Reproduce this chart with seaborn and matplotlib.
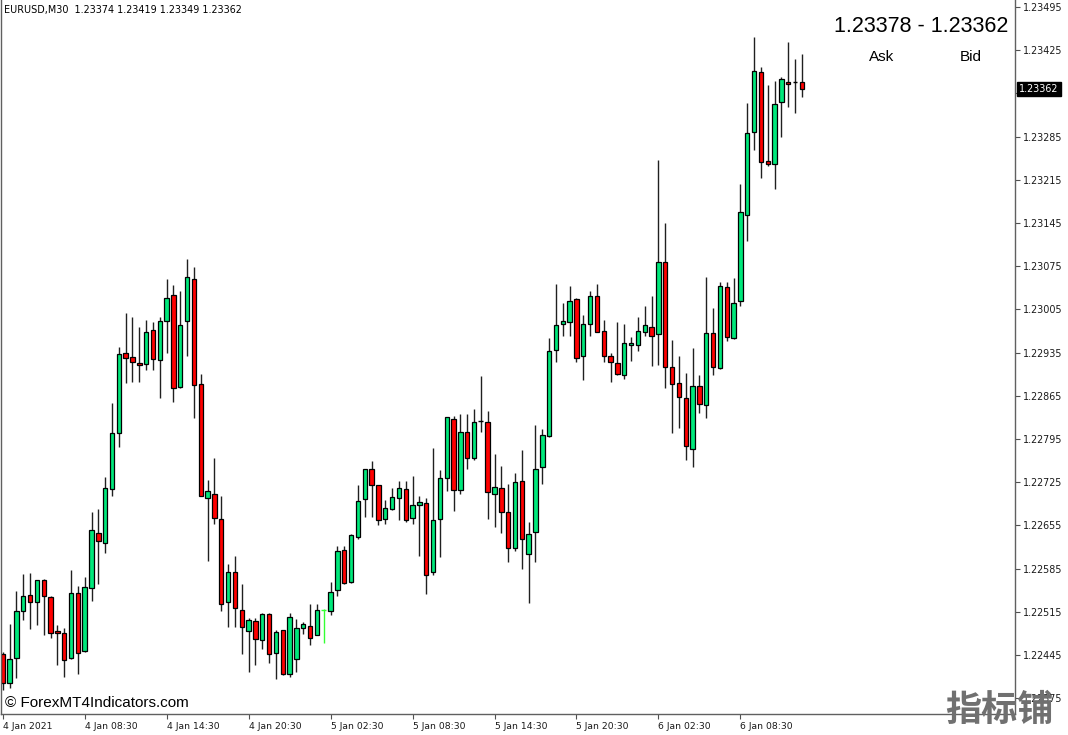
import numpy as np
import matplotlib
matplotlib.use('Agg')
import matplotlib.pyplot as plt
import matplotlib.transforms as mtransforms
import seaborn as sns

# ---- data: EURUSD M30 candles ----
opens = [1.22447, 1.22400, 1.22440, 1.22517, 1.22542, 1.22531, 1.22566, 1.22539, 1.22484, 1.22481,
         1.22440, 1.22546, 1.22451, 1.22553, 1.22643, 1.22626, 1.22714, 1.22804, 1.22934, 1.22928,
         1.22918, 1.22916, 1.22971, 1.22923, 1.22986, 1.23028, 1.22879, 1.22986, 1.23054, 1.22884,
         1.22699, 1.22706, 1.22665, 1.22531, 1.22579, 1.22518, 1.22484, 1.22500, 1.22470, 1.22511,
         1.22448, 1.22485, 1.22414, 1.22438, 1.22488, 1.22492, 1.22477, 1.22518, 1.22516, 1.22550,
         1.22615, 1.22563, 1.22636, 1.22698, 1.22746, 1.22720, 1.22666, 1.22681, 1.22700, 1.22714,
         1.22667, 1.22688, 1.22692, 1.22579, 1.22666, 1.22732, 1.22828, 1.22713, 1.22807, 1.22765,
         1.22824, 1.22822, 1.22706, 1.22716, 1.22677, 1.22619, 1.22727, 1.22608, 1.22644, 1.22750,
         1.22800, 1.22939, 1.22981, 1.22985, 1.23022, 1.22929, 1.22982, 1.23026, 1.22970, 1.22929,
         1.22918, 1.22898, 1.22947, 1.22947, 1.22969, 1.22977, 1.22965, 1.23081, 1.22912, 1.22885,
         1.22861, 1.22778, 1.22881, 1.22850, 1.22966, 1.22910, 1.23042, 1.22958, 1.23019, 1.23158,
         1.23292, 1.23389, 1.23246, 1.23240, 1.23341, 1.23373, 1.23373, 1.23374]
highs = [1.22450, 1.22495, 1.22548, 1.22576, 1.22578, 1.22567, 1.22568, 1.22540, 1.22493, 1.22488,
         1.22583, 1.22556, 1.22571, 1.22676, 1.22682, 1.22733, 1.22854, 1.22944, 1.22999, 1.22992,
         1.22976, 1.22988, 1.22984, 1.22992, 1.23054, 1.23045, 1.23034, 1.23086, 1.23074, 1.22900,
         1.22729, 1.22764, 1.22703, 1.22592, 1.22605, 1.22560, 1.22505, 1.22505, 1.22513, 1.22513,
         1.22485, 1.22486, 1.22513, 1.22503, 1.22499, 1.22527, 1.22528, 1.22520, 1.22563, 1.22622,
         1.22621, 1.22641, 1.22721, 1.22747, 1.22760, 1.22721, 1.22696, 1.22716, 1.22727, 1.22727,
         1.22735, 1.22702, 1.22700, 1.22780, 1.22745, 1.22831, 1.22832, 1.22835, 1.22835, 1.22843,
         1.22897, 1.22841, 1.22770, 1.22751, 1.22722, 1.22740, 1.22777, 1.22660, 1.22818, 1.22811,
         1.22959, 1.23046, 1.23015, 1.23043, 1.23023, 1.22996, 1.23034, 1.23046, 1.22987, 1.22935,
         1.22984, 1.22981, 1.22960, 1.22992, 1.23010, 1.23026, 1.23247, 1.23145, 1.22956, 1.22930,
         1.22902, 1.22942, 1.22899, 1.23058, 1.23008, 1.23050, 1.23050, 1.23056, 1.23208, 1.23340,
         1.23446, 1.23397, 1.23369, 1.23375, 1.23382, 1.23439, 1.23411, 1.23419]
lows = [1.22389, 1.22392, 1.22408, 1.22501, 1.22487, 1.22493, 1.22477, 1.22472, 1.22428, 1.22409,
        1.22439, 1.22414, 1.22450, 1.22533, 1.22560, 1.22611, 1.22703, 1.22782, 1.22885, 1.22888,
        1.22888, 1.22907, 1.22906, 1.22862, 1.22934, 1.22855, 1.22878, 1.22930, 1.22829, 1.22702,
        1.22598, 1.22657, 1.22517, 1.22491, 1.22490, 1.22446, 1.22417, 1.22429, 1.22455, 1.22432,
        1.22406, 1.22412, 1.22409, 1.22418, 1.22479, 1.22461, 1.22477, 1.22464, 1.22510, 1.22541,
        1.22560, 1.22562, 1.22633, 1.22669, 1.22669, 1.22655, 1.22657, 1.22680, 1.22663, 1.22661,
        1.22658, 1.22606, 1.22544, 1.22575, 1.22603, 1.22711, 1.22678, 1.22706, 1.22747, 1.22761,
        1.22806, 1.22665, 1.22652, 1.22643, 1.22596, 1.22613, 1.22584, 1.22530, 1.22596, 1.22722,
        1.22799, 1.22919, 1.22962, 1.22962, 1.22919, 1.22890, 1.22962, 1.22968, 1.22920, 1.22888,
        1.22899, 1.22892, 1.22921, 1.22938, 1.22962, 1.22913, 1.22915, 1.22877, 1.22804, 1.22812,
        1.22761, 1.22750, 1.22837, 1.22829, 1.22899, 1.22909, 1.22954, 1.22957, 1.23011, 1.23115,
        1.23263, 1.23218, 1.23238, 1.23200, 1.23284, 1.23333, 1.23324, 1.23349]
closes = [1.22400, 1.22439, 1.22517, 1.22540, 1.22531, 1.22566, 1.22540, 1.22481, 1.22480, 1.22437,
          1.22545, 1.22448, 1.22555, 1.22647, 1.22630, 1.22715, 1.22804, 1.22932, 1.22926, 1.22919,
          1.22915, 1.22969, 1.22924, 1.22986, 1.23024, 1.22877, 1.22979, 1.23057, 1.22883, 1.22703,
          1.22710, 1.22667, 1.22528, 1.22580, 1.22521, 1.22490, 1.22501, 1.22471, 1.22511, 1.22446,
          1.22483, 1.22414, 1.22506, 1.22488, 1.22495, 1.22472, 1.22518, 1.22518, 1.22547, 1.22614,
          1.22561, 1.22639, 1.22695, 1.22746, 1.22721, 1.22664, 1.22683, 1.22701, 1.22715, 1.22664,
          1.22688, 1.22693, 1.22575, 1.22663, 1.22732, 1.22830, 1.22713, 1.22807, 1.22764, 1.22822,
          1.22824, 1.22709, 1.22717, 1.22677, 1.22618, 1.22725, 1.22633, 1.22641, 1.22746, 1.22802,
          1.22938, 1.22980, 1.22986, 1.23019, 1.22926, 1.22981, 1.23027, 1.22969, 1.22930, 1.22919,
          1.22900, 1.22951, 1.22951, 1.22970, 1.22980, 1.22962, 1.23081, 1.22912, 1.22884, 1.22863,
          1.22783, 1.22881, 1.22852, 1.22967, 1.22911, 1.23043, 1.22960, 1.23015, 1.23162, 1.23290,
          1.23391, 1.23243, 1.23241, 1.23337, 1.23378, 1.23370, 1.23373, 1.23362]
lime_doji = [47]  # doji drawn in lime by the terminal

x_tick_bars = [0, 12, 24, 36, 48, 60, 72, 84, 96, 108]
x_tick_labels = ['4 Jan 2021', '4 Jan 08:30', '4 Jan 14:30', '4 Jan 20:30', '5 Jan 02:30',
                 '5 Jan 08:30', '5 Jan 14:30', '5 Jan 20:30', '6 Jan 02:30', '6 Jan 08:30']
y_ticks = [1.23495, 1.23425, 1.23355, 1.23285, 1.23215, 1.23145, 1.23075, 1.23005, 1.22935,
           1.22865, 1.22795, 1.22725, 1.22655, 1.22585, 1.22515, 1.22445, 1.22375]
ask, bid = 1.23378, 1.23362

# ---- style ----
sns.set_theme(style='white')
plt.rcParams['font.family'] = ['DejaVu Sans']

UP = '#00e87b'
DOWN = '#ff0000'
WICK = '#202020'

fig = plt.figure(figsize=(10.68, 7.35), dpi=100)
ax = fig.add_axes([1 / 1068, 21 / 735, 1014 / 1068, 714 / 735])

o = np.array(opens)
h = np.array(highs)
l = np.array(lows)
c = np.array(closes)
idx = np.arange(len(o))
up = c > o
down = c < o
flat = c == o
lime = np.isin(idx, lime_doji)

# wicks
ax.vlines(idx[~lime], l[~lime], h[~lime], color=WICK, lw=1, zorder=1)
ax.vlines(idx[lime], l[lime], h[lime], color='#33ff33', lw=1, zorder=1)

# bodies
ax.bar(idx[up], (c - o)[up], bottom=o[up], width=0.64, color=UP,
       edgecolor='black', linewidth=0.9, zorder=2)
ax.bar(idx[down], (o - c)[down], bottom=c[down], width=0.64, color=DOWN,
       edgecolor='black', linewidth=0.9, zorder=2)
# dojis
fl = flat & ~lime
ax.hlines(c[fl], idx[fl] - 0.35, idx[fl] + 0.35, color='black', lw=1, zorder=2)
ax.hlines(c[lime], idx[lime] - 0.35, idx[lime] + 0.35, color='#33ff33', lw=1, zorder=2)

ax.set_xlim(-0.25, 148.2)
ax.set_ylim(1.223494, 1.235063)

# axes / ticks
for side in ['left', 'bottom', 'right']:
    ax.spines[side].set_color('#606060')
    ax.spines[side].set_linewidth(1)
ax.spines['top'].set_visible(False)

ax.yaxis.tick_right()
ax.set_yticks(y_ticks)
ax.set_yticklabels([f'{v:.5f}' for v in y_ticks])
ax.set_xticks(x_tick_bars)
ax.set_xticklabels(x_tick_labels, ha='left')
ax.tick_params(axis='y', which='both', direction='out', length=3.5, width=0.8,
               color='#505050', labelsize=6.9, labelcolor='#1a1a1a', pad=2, right=True, left=False)
ax.tick_params(axis='x', which='both', direction='out', length=3.5, width=0.8,
               color='#505050', labelsize=6.7, labelcolor='#1a1a1a', pad=2.5, bottom=True)
ax.grid(False)

# current price box on the price scale
trans = mtransforms.blended_transform_factory(ax.transAxes, ax.transData)
trans = mtransforms.offset_copy(trans, fig=fig, x=4, y=0, units='dots')
ax.text(1.0, closes[-1], f'{closes[-1]:.5f}', transform=trans, ha='left', va='center',
        fontsize=6.9, color='white', clip_on=False, zorder=5,
        bbox=dict(boxstyle='square,pad=0.25', facecolor='black', edgecolor='black'))

# header and overlays
fig.text(4 / 1068, 1 - 10 / 735,
         f'EURUSD,M30  {opens[-1]:.5f} {highs[-1]:.5f} {lows[-1]:.5f} {closes[-1]:.5f}',
         ha='left', va='center', fontsize=6.9, color='black')
fig.text(1008 / 1068, 1 - 26 / 735, f'{ask:.5f} - {bid:.5f}', ha='right', va='center',
         fontsize=15.5, family='Liberation Sans', color='black')
fig.text(882 / 1068, 1 - 57 / 735, 'Ask', ha='center', va='center',
         fontsize=11, family='Liberation Sans', color='black')
fig.text(971 / 1068, 1 - 57 / 735, 'Bid', ha='center', va='center',
         fontsize=11, family='Liberation Sans', color='black')
fig.text(5 / 1068, 1 - 703 / 735, '© ForexMT4Indicators.com', ha='left', va='center',
         fontsize=11, family='Liberation Sans', color='black')
fig.text(999 / 1068, 1 - 710 / 735, '指标铺', ha='center', va='center', fontsize=26,
         family=['Noto Sans CJK SC', 'DejaVu Sans'], fontweight='bold', color='#707070', zorder=10)

fig.savefig('out.png', dpi=100, facecolor='white')
